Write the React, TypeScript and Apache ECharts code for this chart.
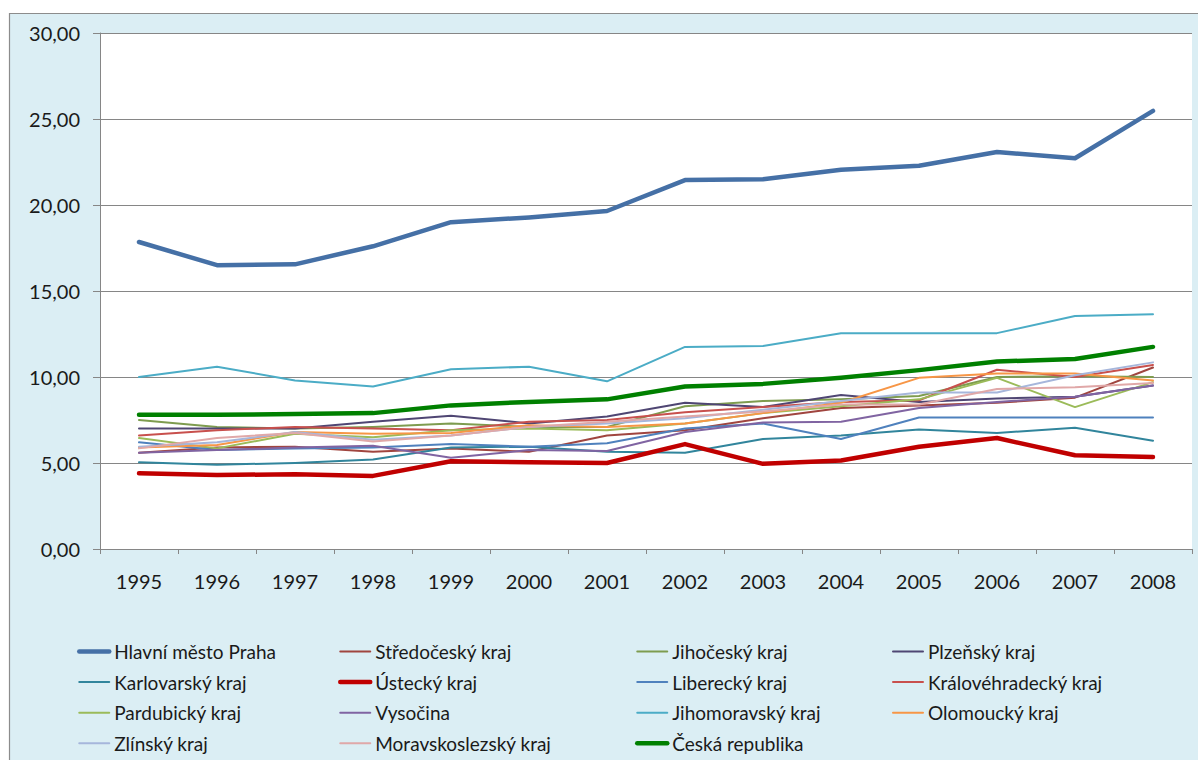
import React, { useEffect, useRef } from 'react';
import * as echarts from 'echarts';

const years = ['1995', '1996', '1997', '1998', '1999', '2000', '2001', '2002', '2003', '2004', '2005', '2006', '2007', '2008'];

const praha = [17.85, 16.5, 16.55, 17.6, 19.0, 19.28, 19.65, 21.45, 21.5, 22.05, 22.28, 23.08, 22.72, 25.47];
const stredocesky = [5.6, 5.9, 5.95, 5.65, 5.85, 5.65, 6.6, 6.9, 7.6, 8.2, 8.35, 8.5, 8.8, 10.55];
const jihocesky = [7.5, 7.1, 7.0, 7.1, 7.3, 7.1, 7.1, 8.3, 8.6, 8.7, 8.9, 10.0, 10.05, 10.0];
const plzensky = [7.0, 7.0, 7.0, 7.4, 7.75, 7.3, 7.7, 8.5, 8.25, 8.95, 8.55, 8.75, 8.85, 9.5];
const karlovarsky = [5.05, 4.9, 5.0, 5.2, 5.9, 5.95, 5.65, 5.6, 6.4, 6.6, 6.95, 6.75, 7.05, 6.3];
const ustecky = [4.4, 4.3, 4.35, 4.25, 5.1, 5.05, 5.0, 6.1, 4.95, 5.15, 5.95, 6.45, 5.45, 5.35];
const liberecky = [6.2, 5.75, 5.85, 5.9, 6.1, 5.95, 6.15, 7.0, 7.3, 6.4, 7.65, 7.65, 7.65, 7.65];
const kralovehradecky = [6.6, 6.9, 7.1, 7.0, 6.9, 7.4, 7.5, 7.95, 8.25, 8.55, 8.65, 10.42, 10.0, 10.7];
const pardubicky = [6.45, 5.85, 6.7, 6.5, 6.9, 7.0, 6.9, 7.3, 7.9, 8.3, 8.7, 9.95, 8.25, 9.7];
const vysocina = [5.6, 5.75, 5.9, 6.0, 5.3, 5.75, 5.7, 6.8, 7.35, 7.4, 8.2, 8.55, 8.85, 9.5];
const jihomoravsky = [10.0, 10.6, 9.8, 9.45, 10.45, 10.6, 9.75, 11.75, 11.8, 12.55, 12.55, 12.55, 13.55, 13.65];
const olomoucky = [5.9, 6.05, 6.8, 6.7, 6.75, 7.2, 7.1, 7.3, 7.9, 8.5, 9.95, 10.2, 10.2, 9.8];
const zlinsky = [5.95, 6.2, 6.8, 6.35, 6.6, 7.1, 7.3, 7.6, 8.1, 8.6, 9.1, 9.1, 10.1, 10.85];
const moravskoslezsky = [5.85, 6.45, 6.75, 6.25, 6.6, 7.1, 7.4, 7.7, 8.0, 8.4, 8.4, 9.3, 9.4, 9.65];
const ceskaRepublika = [7.8, 7.8, 7.85, 7.9, 8.35, 8.55, 8.7, 9.45, 9.6, 9.95, 10.4, 10.9, 11.05, 11.75];

const seriesNames = [
  'Hlavní město Praha', 'Středočeský kraj', 'Jihočeský kraj', 'Plzeňský kraj',
  'Karlovarský kraj', 'Ústecký kraj', 'Liberecký kraj', 'Královéhradecký kraj',
  'Pardubický kraj', 'Vysočina', 'Jihomoravský kraj', 'Olomoucký kraj',
  'Zlínský kraj', 'Moravskoslezský kraj', 'Česká republika',
];
const seriesValues = [
  praha, stredocesky, jihocesky, plzensky, karlovarsky, ustecky, liberecky,
  kralovehradecky, pardubicky, vysocina, jihomoravsky, olomoucky, zlinsky,
  moravskoslezsky, ceskaRepublika,
];

const yTicks = [0, 5, 10, 15, 20, 25, 30];

// styles (kept separate from data)
const colors = [
  '#4570A6', '#A0453F', '#7E9C4F', '#4F4673', '#31859C', '#C00000', '#4F81BD',
  '#C8504D', '#9BBB59', '#8064A2', '#4BACC6', '#F79646', '#A6B6DB', '#E0A8A8', '#008000',
];
const widths = [4.5, 2, 2, 2, 2, 4.5, 2, 2, 2, 2, 2, 2, 2, 2, 4.5];

const legendColumns = [
  ['Hlavní město Praha', 'Karlovarský kraj', 'Pardubický kraj', 'Zlínský kraj'],
  ['Středočeský kraj', 'Ústecký kraj', 'Vysočina', 'Moravskoslezský kraj'],
  ['Jihočeský kraj', 'Liberecký kraj', 'Jihomoravský kraj', 'Česká republika'],
  ['Plzeňský kraj', 'Královéhradecký kraj', 'Olomoucký kraj'],
];
const legendLefts = [77, 338, 635, 892];

const FONT = 'Lato';

export default function App() {
  const ref = useRef<HTMLDivElement>(null);
  useEffect(() => {
    if (!ref.current) return;
    const chart = echarts.init(ref.current, null, { renderer: 'svg' });
    chart.setOption({
      animation: false,
      backgroundColor: '#ffffff',
      graphic: [
        {
          type: 'rect',
          z: -10,
          silent: true,
          shape: { x: 9.5, y: 13.5, width: 1220, height: 800 },
          style: { fill: '#DBEEF4', stroke: '#8C8C8C', lineWidth: 1.2 },
        },
      ],
      grid: {
        left: 100,
        top: 33,
        width: 1092,
        height: 516,
        show: true,
        backgroundColor: '#ffffff',
        borderWidth: 0,
        containLabel: false,
      },
      xAxis: {
        type: 'category',
        data: years,
        boundaryGap: true,
        axisLine: { show: true, lineStyle: { color: '#868686', width: 1 } },
        axisTick: { show: true, length: 5, lineStyle: { color: '#868686' } },
        axisLabel: { color: '#1a1a1a', fontSize: 20, fontFamily: FONT, margin: 22 },
        splitLine: { show: false },
      },
      yAxis: {
        type: 'value',
        min: yTicks[0],
        max: yTicks[yTicks.length - 1],
        interval: 5,
        axisLine: { show: true, lineStyle: { color: '#868686', width: 1 } },
        axisTick: { show: true, length: 7, lineStyle: { color: '#868686' } },
        axisLabel: {
          color: '#1a1a1a',
          fontSize: 20,
          fontFamily: FONT,
          margin: 20,
          formatter: (v: number) => v.toFixed(2).replace('.', ','),
        },
        splitLine: { show: true, lineStyle: { color: '#868686', width: 1 } },
      },
      legend: legendColumns.map((names, i) => ({
        orient: 'vertical',
        left: legendLefts[i],
        top: 642,
        height: 160,
        itemWidth: 30,
        itemHeight: 14,
        itemGap: 11.6,
        padding: 0,
        data: names.map((n) => {
          const idx = seriesNames.indexOf(n);
          return { name: n, lineStyle: { width: widths[idx], color: colors[idx] } };
        }),
        itemStyle: { opacity: 0 },
        textStyle: { color: '#1a1a1a', fontSize: 19, lineHeight: 14, fontFamily: FONT },
      })),
      series: seriesNames.map((name, i) => ({
        name,
        type: 'line',
        data: seriesValues[i],
        symbol: 'none',
        showSymbol: false,
        color: colors[i],
        lineStyle: { color: colors[i], width: widths[i], cap: 'round', join: 'round' },
        z: 2 + i,
      })),
    });
    return () => chart.dispose();
  }, []);
  return (
    <div
      ref={ref}
      style={{ position: 'fixed', left: 0, top: 0, width: 1198, height: 760 }}
    />
  );
}
